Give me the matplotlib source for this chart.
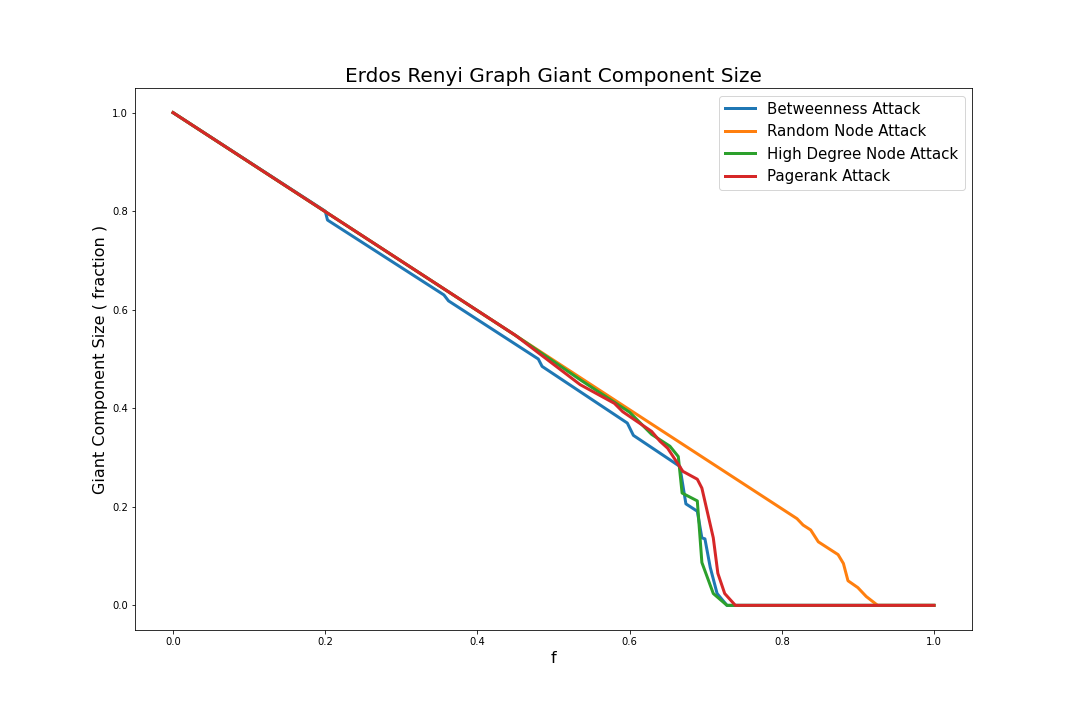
import matplotlib.pyplot as plt

# values
bet_f = [0.0, 0.2, 0.203, 0.356, 0.362, 0.48, 0.485, 0.597, 0.605, 0.666, 0.674, 0.689, 0.695, 0.699, 0.706, 0.715, 0.728, 1.0]
bet_y = [1.0, 0.8, 0.782, 0.63, 0.618, 0.50, 0.485, 0.37, 0.345, 0.282, 0.206, 0.191, 0.137, 0.135, 0.077, 0.024, 0.0, 0.0]

rnd_f = [0.0, 0.82, 0.828, 0.838, 0.848, 0.874, 0.881, 0.887, 0.900, 0.911, 0.926, 1.0]
rnd_y = [1.0, 0.176, 0.163, 0.153, 0.129, 0.103, 0.085, 0.050, 0.036, 0.018, 0.0, 0.0]

deg_f = [0.0, 0.45, 0.535, 0.600, 0.629, 0.653, 0.664, 0.669, 0.689, 0.695, 0.710, 0.728, 1.0]
deg_y = [1.0, 0.548, 0.458, 0.392, 0.347, 0.323, 0.302, 0.228, 0.212, 0.087, 0.024, 0.0, 0.0]

pr_f = [0.0, 0.45, 0.535, 0.58, 0.591, 0.629, 0.640, 0.650, 0.670, 0.689, 0.695, 0.710, 0.716, 0.725, 0.739, 1.0]
pr_y = [1.0, 0.548, 0.448, 0.41, 0.393, 0.353, 0.333, 0.319, 0.272, 0.256, 0.238, 0.137, 0.065, 0.024, 0.0, 0.0]

fig = plt.figure(figsize=(15, 10), dpi=72)
ax = fig.add_axes([135/1080, 90/720, 837/1080, 542/720])

ax.plot(bet_f, bet_y, label='Betweenness Attack', linewidth=3)
ax.plot(rnd_f, rnd_y, label='Random Node Attack', linewidth=3)
ax.plot(deg_f, deg_y, label='High Degree Node Attack', linewidth=3)
ax.plot(pr_f, pr_y, label='Pagerank Attack', linewidth=3)

ax.set_title('Erdos Renyi Graph Giant Component Size', fontsize=20)
ax.set_xlabel('f', fontsize=16)
ax.set_ylabel('Giant Component Size ( fraction )', fontsize=16)
ax.set_xlim(-0.05, 1.05)
ax.set_ylim(-0.05, 1.05)
ax.legend(fontsize=15)

plt.savefig('out.png', dpi=72)
